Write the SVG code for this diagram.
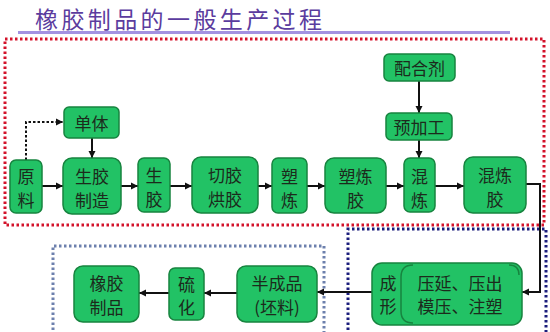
<svg xmlns="http://www.w3.org/2000/svg" width="550" height="332" viewBox="0 0 550 332">
<style>
.node rect{fill:#22c265;stroke:#17843f;stroke-width:1.5}
.node text,.lbl{font-family:"Noto Sans CJK SC","Noto Sans CJK TC",sans-serif;font-size:17px;fill:#1c2a1c;text-anchor:middle;dominant-baseline:central}
.title{font-family:"Noto Sans CJK SC",sans-serif;font-size:23px;letter-spacing:3.4px;fill:#5b3c9e}
.conn path{fill:none;stroke:#111;stroke-width:2}
.dot{fill:none;stroke-width:3;stroke-dasharray:2.5 2.5}
</style>
<defs>
<marker id="ah" markerUnits="userSpaceOnUse" markerWidth="8" markerHeight="8" refX="7" refY="4" orient="auto">
<path d="M0,0.5 L7,4 L0,7.5 Z" fill="#111"/>
</marker>
</defs>
<rect width="550" height="332" fill="#fff"/>
<text class="title" x="35" y="27.5">橡胶制品的一般生产过程</text>
<rect x="18" y="31" width="492" height="3" fill="#a392e2"/>
<rect class="dot" x="5" y="39" width="539" height="186" stroke="#d3122a"/>
<path class="dot" d="M348,340 V229 H546 V340" stroke="#1b1d7c"/>
<path class="dot" d="M53,340 V246 H324 V340" stroke="#6d80ad"/>
<g class="conn">
<path d="M26,160 V122 H63" stroke-dasharray="2.5 2" marker-end="url(#ah)"/>
<path d="M42,186 H63" marker-end="url(#ah)"/>
<path d="M121,186 H138" marker-end="url(#ah)"/>
<path d="M170,186 H192" marker-end="url(#ah)"/>
<path d="M258,186 H272" marker-end="url(#ah)"/>
<path d="M307,186 H325" marker-end="url(#ah)"/>
<path d="M386,186 H404" marker-end="url(#ah)"/>
<path d="M435,186 H464" marker-end="url(#ah)"/>
<path d="M92,138 V158" marker-end="url(#ah)"/>
<path d="M419,81 V113" marker-end="url(#ah)"/>
<path d="M419,140 V158" marker-end="url(#ah)"/>
<path d="M526,184 H540 V292 H522" marker-end="url(#ah)"/>
<path d="M372,292 H317" marker-end="url(#ah)"/>
<path d="M237,293 H204" marker-end="url(#ah)"/>
<path d="M169,293 H139" marker-end="url(#ah)"/>
</g>
<g id="danti" class="node"><rect x="64" y="107" width="55" height="31" rx="5"/><text x="91.5" y="122.5">单体</text></g>
<g id="yuanliao" class="node"><rect x="10" y="160" width="32" height="53" rx="6"/><text x="26" y="175">原</text><text x="26" y="199">料</text></g>
<g id="shengjiaozhizao" class="node"><rect x="63" y="158" width="58" height="56" rx="9"/><text x="92" y="175">生胶</text><text x="92" y="199">制造</text></g>
<g id="shengjiao" class="node"><rect x="138" y="158" width="32" height="54" rx="6"/><text x="154" y="174">生</text><text x="154" y="198">胶</text></g>
<g id="qiejiao" class="node"><rect x="192" y="157" width="66" height="56" rx="9"/><text x="225" y="174">切胶</text><text x="225" y="198">烘胶</text></g>
<g id="sulian" class="node"><rect x="272" y="158" width="35" height="55" rx="6"/><text x="289.5" y="175">塑</text><text x="289.5" y="199">炼</text></g>
<g id="suljiao" class="node"><rect x="325" y="158" width="61" height="55" rx="9"/><text x="355.5" y="175">塑炼</text><text x="355.5" y="199">胶</text></g>
<g id="hunlian" class="node"><rect x="404" y="158" width="31" height="54" rx="6"/><text x="419.5" y="175">混</text><text x="419.5" y="199">炼</text></g>
<g id="hunlianjiao" class="node"><rect x="464" y="157" width="62" height="56" rx="9"/><text x="495" y="174">混炼</text><text x="495" y="198">胶</text></g>
<g id="peiheji" class="node"><rect x="384" y="54" width="71" height="27" rx="5"/><text x="419.5" y="67.5">配合剂</text></g>
<g id="yujiagong" class="node"><rect x="386" y="113" width="66" height="27" rx="5"/><text x="419" y="126.5">预加工</text></g>
<g id="chengxing" class="node"><rect x="372" y="263" width="150" height="62" rx="10"/>
<path d="M413,265 Q401,265 401,277 V311 Q401,323 413,323" fill="none" stroke="#17843f" stroke-width="1.5"/>
<path d="M509,265 Q519,265 519,275" fill="none" stroke="#17843f" stroke-width="1.5"/>
<text x="388" y="282">成</text><text x="388" y="305">形</text><text x="460" y="282">压延、压出</text><text x="460" y="305">模压、注塑</text></g>
<g id="banchengpin" class="node"><rect x="237" y="266" width="80" height="56" rx="9"/><text x="277" y="282">半成品</text><text x="277" y="306">(坯料)</text></g>
<g id="liuhua" class="node"><rect x="169" y="268" width="35" height="52" rx="6"/><text x="186.5" y="283">硫</text><text x="186.5" y="306">化</text></g>
<g id="xiangjiaozhipin" class="node"><rect x="74" y="266" width="65" height="56" rx="9"/><text x="106.5" y="282">橡胶</text><text x="106.5" y="306">制品</text></g>
</svg>
